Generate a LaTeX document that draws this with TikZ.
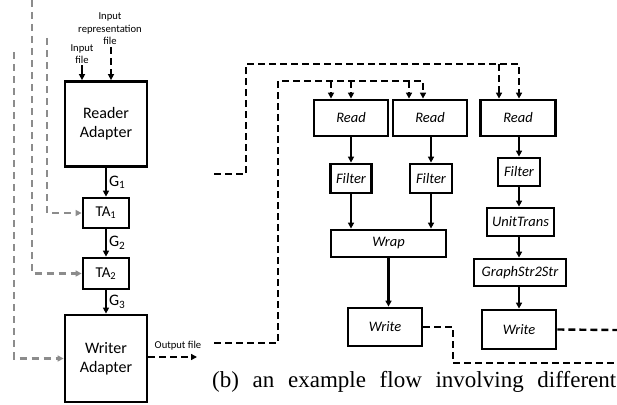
\documentclass[tikz,border=0pt]{standalone}
\usepackage{fontspec}
\setmainfont{Carlito}
\newfontfamily\capfont{Liberation Serif}
\usepackage{tikz}
\usetikzlibrary{arrows.meta}
\usetikzlibrary{positioning}
\usetikzlibrary{calc}

\definecolor{sidegray}{RGB}{140,140,140}

\tikzset{
  adapter/.style={draw, line width=2.8pt, inner sep=0pt, align=center,
    font=\fontsize{16}{19}\selectfont},
  tabox/.style={draw, line width=2.8pt, inner sep=0pt,
    font=\fontsize{15}{17}\selectfont},
  opbox/.style={draw, line width=2.8pt, inner sep=0pt,
    font=\fontsize{14.5}{17}\selectfont\itshape},
  flow/.style={->, line width=2.1pt},
  link/.style={line width=2.4pt, dash pattern=on 7pt off 4pt},
  feed/.style={link, ->},
  side/.style={->, line width=2.2pt, sidegray, dash pattern=on 7pt off 5pt},
  tiny/.style={font=\fontsize{10.6}{12.5}\selectfont, align=center, inner sep=0pt},
  glabel/.style={font=\fontsize{16}{18}\selectfont, inner sep=2pt},
}

\begin{document}
\begin{tikzpicture}[x=1pt, y=-1pt, >={Triangle[length=6pt,width=6pt]}]
  \useasboundingbox (0,0) rectangle (617,404);

  % left: adapter chain
  \node[adapter, minimum width=82pt, minimum height=85pt] (reader) at (106,124) {Reader\\Adapter};
  \node[tabox, minimum width=46pt, minimum height=30pt] (ta1) at (106,213) {TA\textsubscript{1}};
  \node[tabox, minimum width=46pt, minimum height=31pt] (ta2) at (106,273.5) {TA\textsubscript{2}};
  \node[adapter, minimum width=82pt, minimum height=87pt] (writer) at (106,358.5) {Writer\\Adapter};

  \draw[flow] (reader) -- (ta1) node[midway, right, glabel] {G\textsubscript{1}};
  \draw[flow] (ta1) -- (ta2) node[midway, right, glabel] {G\textsubscript{2}};
  \draw[flow] (ta2) -- (writer) node[midway, right, glabel] {G\textsubscript{3}};

  % inputs
  \node[tiny] (inlab) at (82,54) {Input\\file};
  \node[tiny] (replab) at (110,29) {Input\\representation\\file};
  \coordinate (infile) at (82,65);
  \coordinate (repfile) at (111,47);
  \draw[flow] (infile) -- (infile |- reader.north);
  \draw[feed] (repfile) -- (repfile |- reader.north);

  % gray feeds into the adapters
  \coordinate (g1) at (47,38);
  \coordinate (g2) at (32,0);
  \coordinate (g3) at (14,52);
  \draw[side] (g1) |- (ta1.west);
  \draw[side] (g2) |- (ta2.west);
  \draw[side] (g3) |- (writer.west);

  % output
  \coordinate (outfile) at (197,357);
  \draw[feed] (writer.east |- outfile) -- (outfile);
  \node[tiny] (outlab) at (178,346) {Output file};

  % right: example flow
  \node[opbox, minimum width=74pt, minimum height=36pt] (read1) at (351,118) {Read};
  \node[opbox, minimum width=74pt, minimum height=36pt] (read2) at (430,118) {Read};
  \node[opbox, minimum width=75pt, minimum height=36pt] (read3) at (518,118) {Read};
  \node[opbox, minimum width=41pt, minimum height=29pt] (filter1) at (351,178.5) {Filter};
  \node[opbox, minimum width=42pt, minimum height=29pt] (filter2) at (431,178.5) {Filter};
  \node[opbox, minimum width=42pt, minimum height=28pt] (filter3) at (519,172) {Filter};
  \node[opbox, minimum width=115pt, minimum height=27pt] (wrap) at (388.5,243.5) {Wrap};
  \node[opbox, minimum width=67pt, minimum height=28pt] (unit) at (520.5,222) {UnitTrans};
  \node[opbox, minimum width=92pt, minimum height=27pt] (g2s) at (520,272.5) {GraphStr2Str};
  \node[opbox, minimum width=74pt, minimum height=38pt] (write1) at (385,327) {Write};
  \node[opbox, minimum width=74pt, minimum height=39pt] (write2) at (519,329.5) {Write};

  \draw[flow] (read1) -- (filter1);
  \draw[flow] (read2.south -| filter2) -- (filter2);
  \draw[flow] (read3.south -| filter3) -- (filter3);
  \draw[flow] (filter1) -- (filter1 |- wrap.north);
  \draw[flow] (filter2) -- (filter2 |- wrap.north);
  \draw[flow] (wrap.south) -- (wrap.south |- write1.north);
  \draw[flow] (filter3) -- (filter3 |- unit.north);
  \draw[flow] (unit.south -| filter3) -- (filter3 |- g2s.north);
  \draw[flow] (g2s.south -| filter3) -- (write2);

  % dashed links between the two pictures
  \coordinate (busA0) at (214,174);
  \coordinate (busB0) at (214,343);
  \draw[feed] (busA0) -- (246,174) -- (246,64) coordinate (busA)
    -| ([xshift=1pt]read3.north);
  \draw[feed] ([xshift=-19pt]read3.north |- busA) -- ([xshift=-19pt]read3.north);
  \draw[feed] (busB0) -- (278,343) -- (278,81) coordinate (busB)
    -| ([xshift=-7pt]read2.north);
  \draw[feed] ([xshift=-21pt]read2.north |- busB) -- ([xshift=-21pt]read2.north);
  \draw[feed] ([xshift=-20pt]read1.north |- busB) -- ([xshift=-20pt]read1.north);
  \draw[feed] (read1.north |- busB) -- (read1.north);

  \coordinate (endA) at (617,363);
  \coordinate (endB) at (617,330);
  \draw[link] (write1.east) -- (453,327) |- (endA);
  \draw[link] (write2.east) -- (endB);

  % caption
  \node[anchor=base west, inner sep=0pt, font=\capfont\fontsize{23}{25}\selectfont] (cap)
    at (212,387) {\makebox[404pt][s]{(b) an example flow involving different}};
\end{tikzpicture}
\end{document}
